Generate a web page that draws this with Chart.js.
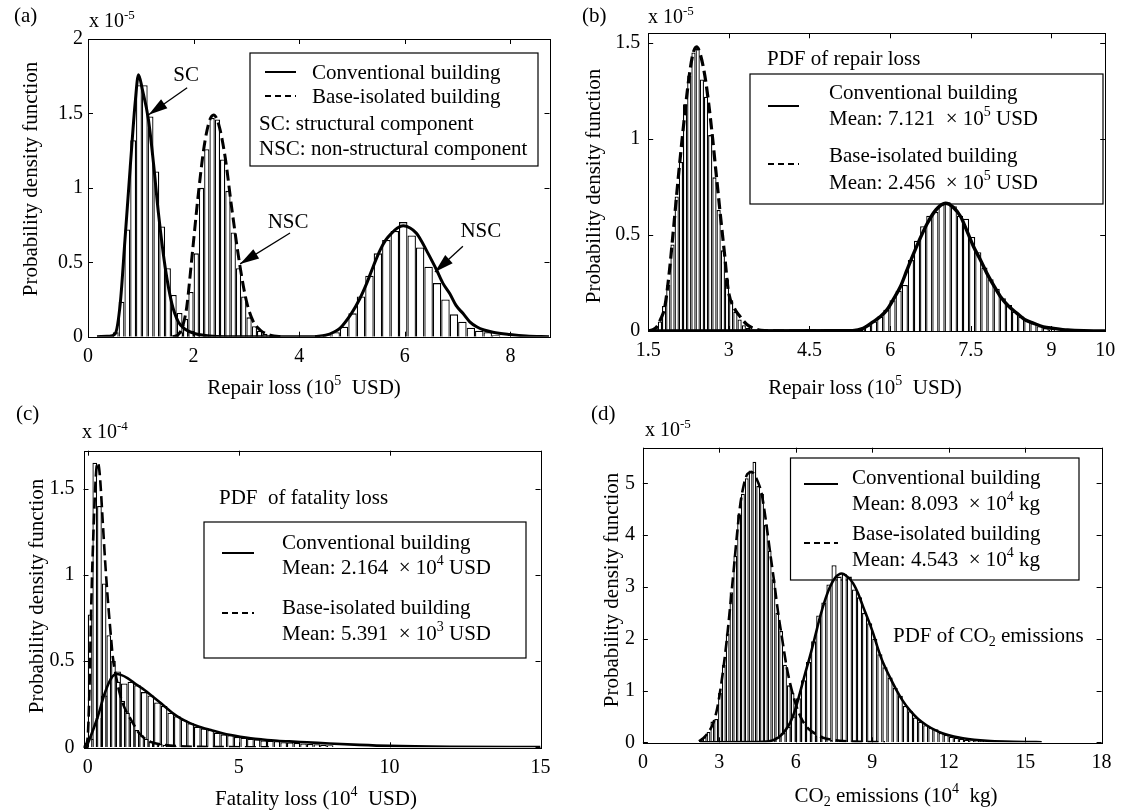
<!DOCTYPE html>
<html><head><meta charset="utf-8">
<script src="https://cdn.jsdelivr.net/npm/chart.js@4.4.0/dist/chart.umd.min.js"></script>
<style>
body{margin:0;background:#fff;width:1128px;height:811px;position:relative;overflow:hidden}
canvas{position:absolute}
</style></head><body>
<canvas id="ca" width="564" height="400" style="left:0;top:0"></canvas>
<canvas id="cb" width="564" height="400" style="left:564px;top:0"></canvas>
<canvas id="cc" width="564" height="411" style="left:0;top:400px"></canvas>
<canvas id="cd" width="564" height="411" style="left:564px;top:400px"></canvas>
<script>
// ---------- Panel (a): repair loss by component ----------
const aTicksX = [0, 2, 4, 6, 8];
const aTicksY = [0, 0.5, 1, 1.5, 2];
const aScBins = [0.525,0.635,0.745,0.855,0.965,1.075,1.185,1.295,1.405,1.515,1.625,1.735,1.845,1.955,2.065];
const aScHist = [0.03,0.235,0.72,1.32,1.69,1.69,1.48,1.11,0.74,0.46,0.28,0.16,0.08,0.04,0.02];
const aBiBins = [1.75,1.85,1.95,2.05,2.15,2.25,2.35,2.45,2.55,2.65,2.75,2.85,2.95,3.05,3.15,3.25,3.35];
const aBiHist = [0.03,0.12,0.3,0.56,1.0,1.26,1.47,1.46,1.19,0.98,0.70,0.46,0.27,0.13,0.07,0.04,0.02];
const aNscBins = [4.53,4.69,4.85,5.01,5.17,5.33,5.49,5.65,5.81,5.97,6.13,6.29,6.45,6.61,6.77,6.93,7.09,7.25,7.41,7.57,7.73];
const aNscHist = [0.01,0.03,0.067,0.157,0.27,0.41,0.56,0.65,0.71,0.77,0.68,0.6,0.47,0.36,0.25,0.15,0.1,0.06,0.04,0.03,0.01];
const aScPdfX = [0.17,0.4,0.515,0.61,0.70,0.80,0.893,0.956,1.03,1.145,1.24,1.334,1.46,1.587,1.71,1.84,2.03,2.3,2.6,4.4];
const aScPdfY = [0,0.003,0.02,0.22,0.65,1.14,1.57,1.76,1.66,1.457,1.166,0.83,0.47,0.224,0.10,0.05,0.02,0.005,0,0];
const aBiPdfX = [1.6,1.7,1.8,1.87,1.97,2.09,2.2,2.3,2.38,2.48,2.6,2.72,2.88,3.0,3.12,3.26,3.45,3.7];
const aBiPdfY = [0,0.01,0.08,0.2,0.54,0.96,1.28,1.45,1.49,1.42,1.2,0.87,0.47,0.24,0.11,0.045,0.01,0];
const aNscPdfX = [4.3,4.5,4.65,4.77,4.99,5.14,5.28,5.4,5.53,5.64,5.75,5.86,5.97,6.1,6.22,6.32,6.41,6.6,6.72,6.85,6.97,7.1,7.23,7.36,7.5,7.67,7.99,8.3,8.73];
const aNscPdfY = [0,0.01,0.03,0.056,0.157,0.25,0.36,0.47,0.58,0.65,0.695,0.73,0.745,0.73,0.695,0.64,0.58,0.45,0.36,0.29,0.21,0.157,0.1,0.067,0.045,0.03,0.015,0.005,0];

// ---------- Panel (b): total repair loss ----------
const bTicksX = [1.5, 3, 4.5, 6, 7.5, 9, 10];
const bTicksY = [0, 0.5, 1, 1.5];
const bBiBins = [1.64,1.718,1.796,1.874,1.952,2.03,2.108,2.186,2.264,2.342,2.42,2.498,2.576,2.654,2.732,2.81,2.888,2.966,3.044,3.122,3.2,3.278,3.356,3.434];
const bBiHist = [0.02,0.05,0.13,0.24,0.45,0.70,0.88,1.18,1.33,1.45,1.47,1.31,1.22,1.02,0.80,0.63,0.42,0.27,0.16,0.10,0.06,0.03,0.015,0.008];
const bCvBins = [5.36,5.474,5.588,5.702,5.816,5.93,6.044,6.158,6.272,6.386,6.5,6.614,6.728,6.842,6.956,7.07,7.184,7.298,7.412,7.526,7.64,7.754,7.868,7.982,8.096,8.21,8.324,8.438,8.552,8.666,8.78,8.894,9.008];
const bCvHist = [0.005,0.012,0.03,0.05,0.075,0.11,0.16,0.21,0.24,0.37,0.47,0.545,0.6,0.62,0.66,0.67,0.65,0.6,0.585,0.49,0.41,0.33,0.27,0.22,0.17,0.135,0.1,0.075,0.055,0.04,0.025,0.015,0.008];
const bBiPdfX = [1.5,1.6,1.66,1.73,1.81,1.89,1.97,2.06,2.15,2.25,2.33,2.4,2.47,2.57,2.68,2.76,2.84,2.92,2.99,3.1,3.21,3.33,3.46,3.6,4.0,5.5];
const bBiPdfY = [0,0.008,0.022,0.06,0.127,0.3,0.53,0.8,1.05,1.3,1.44,1.48,1.44,1.3,1.05,0.83,0.61,0.4,0.21,0.12,0.075,0.035,0.014,0.003,0,0];
const bCvPdfX = [1.5,5.3,5.5,5.69,5.82,5.94,6.06,6.19,6.31,6.44,6.57,6.69,6.85,7.03,7.17,7.31,7.43,7.55,7.68,7.8,7.92,8.05,8.2,8.36,8.5,8.67,8.85,9.04,9.3,9.6,10];
const bCvPdfY = [0,0.002,0.014,0.049,0.075,0.11,0.165,0.23,0.315,0.405,0.49,0.56,0.63,0.665,0.645,0.596,0.52,0.44,0.37,0.3,0.24,0.18,0.13,0.092,0.06,0.04,0.022,0.014,0.005,0.001,0];

// ---------- Panel (c): fatality loss ----------
const cTicksX = [0, 5, 10, 15];
const cTicksY = [0, 0.5, 1, 1.5];
const cBiBins = [0.078,0.233,0.388,0.543,0.698,0.853,1.008,1.163,1.318,1.473,1.628,1.783,1.938,2.093,2.248,2.403,2.558,2.713,2.868];
const cBiHist = [0.77,1.65,1.4,0.95,0.65,0.5,0.38,0.27,0.2,0.15,0.1,0.07,0.05,0.035,0.025,0.02,0.015,0.01,0.008];
const cCvBins = [0.11,0.33,0.55,0.77,0.99,1.21,1.43,1.65,1.87,2.09,2.31,2.53,2.75,2.97,3.19,3.41,3.63,3.85,4.07,4.29,4.51,4.73,4.95,5.17,5.39,5.61,5.83,6.05,6.27,6.49,6.71,6.93,7.15,7.37,7.59,7.81,8.03];
const cCvHist = [0.05,0.17,0.3,0.4,0.44,0.37,0.38,0.36,0.32,0.3,0.26,0.24,0.2,0.18,0.16,0.14,0.12,0.11,0.1,0.085,0.075,0.07,0.06,0.055,0.05,0.045,0.04,0.038,0.035,0.03,0.028,0.025,0.022,0.02,0.018,0.015,0.012];
const cBiPdfX = [-0.14,-0.05,0.0,0.06,0.116,0.2,0.28,0.337,0.4,0.5,0.58,0.667,0.75,0.83,0.95,1.05,1.16,1.3,1.44,1.58,1.71,1.9,2.1,2.5,3,4,6];
const cBiPdfY = [0,0.02,0.06,0.35,0.816,1.3,1.6,1.65,1.58,1.3,1.07,0.854,0.68,0.525,0.4,0.32,0.255,0.2,0.158,0.115,0.08,0.05,0.03,0.015,0.006,0.002,0];
const cCvPdfX = [-0.05,0,0.337,0.557,0.776,0.95,1.1,1.33,1.6,1.88,2.15,2.43,2.7,2.98,3.25,3.53,3.8,4.08,4.4,4.74,5.05,5.4,5.8,6.28,6.8,7.27,8,9,10,12,15];
const cCvPdfY = [0,0.02,0.18,0.31,0.40,0.425,0.42,0.40,0.365,0.332,0.295,0.255,0.215,0.178,0.152,0.13,0.113,0.10,0.085,0.071,0.061,0.052,0.045,0.038,0.033,0.029,0.022,0.014,0.008,0.003,0.001];

// ---------- Panel (d): CO2 emissions ----------
const dTicksX = [0, 3, 6, 9, 12, 15, 18];
const dTicksY = [0, 1, 2, 3, 4, 5];
const dBiBins = [2.275,2.425,2.575,2.725,2.875,3.025,3.175,3.325,3.475,3.625,3.775,3.925,4.075,4.225,4.375,4.525,4.675,4.825,4.975,5.125,5.275,5.425,5.575,5.725,5.875,6.025,6.175,6.325,6.475,6.625,6.775,6.925,7.075,7.225,7.375,7.525,7.675,7.825];
const dBiHist = [0.05,0.1,0.2,0.4,0.45,0.95,1.5,2.1,2.9,3.6,4.4,4.8,5.1,5.25,5.42,4.95,4.8,4.2,3.7,3.15,2.5,2.15,1.5,1.1,0.95,0.7,0.5,0.35,0.25,0.18,0.13,0.1,0.08,0.06,0.045,0.03,0.02,0.015];
const dCvBins = [4.9,5.1,5.3,5.5,5.7,5.9,6.1,6.3,6.5,6.7,6.9,7.1,7.3,7.5,7.7,7.9,8.1,8.3,8.5,8.7,8.9,9.1,9.3,9.5,9.7,9.9,10.1,10.3,10.5,10.7,10.9,11.1,11.3,11.5,11.7,11.9,12.1,12.3,12.5,12.7,12.9,13.1,13.3,13.5,13.7,13.9];
const dCvHist = [0.02,0.05,0.1,0.18,0.3,0.5,0.85,1.2,1.55,1.95,2.45,2.7,3.05,3.42,3.2,3.25,3.2,2.95,2.8,2.5,2.3,2.0,1.7,1.45,1.25,1.05,0.9,0.7,0.6,0.48,0.4,0.33,0.28,0.25,0.18,0.14,0.11,0.09,0.07,0.05,0.04,0.03,0.025,0.02,0.015,0.01];
const dBiPdfX = [2.2,2.37,2.55,2.76,2.9,3.02,3.15,3.29,3.42,3.55,3.68,3.81,3.95,4.1,4.27,4.45,4.66,4.82,4.98,5.15,5.31,5.48,5.64,5.83,6.03,6.22,6.42,6.75,7.07,7.73,8.5,9.5];
const dBiPdfY = [0.02,0.077,0.18,0.37,0.62,0.95,1.4,1.97,2.6,3.26,3.95,4.55,4.95,5.18,5.22,5.1,4.8,4.3,3.71,3.1,2.49,1.95,1.46,1.03,0.69,0.46,0.3,0.17,0.089,0.03,0.01,0];
const dCvPdfX = [2.24,4.5,5.11,5.45,5.77,5.97,6.16,6.35,6.55,6.75,6.95,7.15,7.34,7.55,7.8,8.02,8.25,8.45,8.64,8.84,9.04,9.23,9.43,9.7,9.95,10.2,10.47,10.8,11.13,11.45,11.78,12.2,12.56,13,13.5,14.2,15,15.65];
const dCvPdfY = [0,0.005,0.04,0.15,0.37,0.62,0.95,1.3,1.65,2.03,2.42,2.75,3.0,3.18,3.26,3.2,3.07,2.87,2.62,2.37,2.1,1.8,1.53,1.25,1.01,0.8,0.62,0.45,0.33,0.24,0.17,0.11,0.077,0.05,0.03,0.015,0.006,0.002];

// ---------- helpers ----------
const FONT = "'Liberation Serif','Times New Roman',serif";
Chart.defaults.color = '#000';
Chart.defaults.font.family = FONT;

function hist(bins, heights, axisId, order) {
  return {type:'bar', data: bins.map((c,i)=>({x:c, y:heights[i]})), xAxisID: axisId, yAxisID:'y',
    backgroundColor:'#fff', borderColor:'#000', borderWidth:1.3, categoryPercentage:1, barPercentage:1,
    grouped:false, inflateAmount:0, order: order};
}
function pdf(xs, ys, dashed, w) {
  return {type:'line', data: xs.map((x,i)=>({x:x, y:ys[i]})), xAxisID:'x', yAxisID:'y',
    borderColor:'#000', borderWidth:w, borderDash: dashed ? [11,5] : [], pointRadius:0,
    fill:false, cubicInterpolationMode:'monotone', order: 0};
}
function drawRich(ctx, x, cy, parts, size, align) {
  const small = Math.round(size*0.66);
  const widths = parts.map(p => { ctx.font = (p[1] ? small : size) + 'px ' + FONT; return ctx.measureText(p[0]).width; });
  const total = widths.reduce((a,b)=>a+b, 0);
  let cx = align === 'center' ? x - total/2 : (align === 'right' ? x - total : x);
  const base = cy + size*0.32;
  ctx.textAlign = 'left'; ctx.textBaseline = 'alphabetic'; ctx.fillStyle = '#000';
  parts.forEach((p,i) => {
    ctx.font = (p[1] ? small : size) + 'px ' + FONT;
    const dy = p[1] === 1 ? -size*0.4 : (p[1] === 2 ? size*0.22 : 0);
    ctx.fillText(p[0], cx, base + dy);
    cx += widths[i];
  });
}
function arrow(ctx, x1, y1, x2, y2) {
  ctx.save(); ctx.strokeStyle = '#000'; ctx.fillStyle = '#000'; ctx.lineWidth = 1.3; ctx.setLineDash([]);
  ctx.beginPath(); ctx.moveTo(x1, y1); ctx.lineTo(x2, y2); ctx.stroke();
  const ang = Math.atan2(y2-y1, x2-x1), L = 19, W = 5.5;
  const bx = x2 - L*Math.cos(ang), by = y2 - L*Math.sin(ang);
  ctx.beginPath(); ctx.moveTo(x2, y2);
  ctx.lineTo(bx + W*Math.sin(ang), by - W*Math.cos(ang));
  ctx.lineTo(bx - W*Math.sin(ang), by + W*Math.cos(ang));
  ctx.closePath(); ctx.fill(); ctx.restore();
}

function build(id, p) {
  const tickFont = {family: FONT, size: 20};
  const mk = v => ({value: v});
  const scales = {
    x: {type:'linear', position:'bottom', min:p.xmin, max:p.xmax, offset:false,
      afterBuildTicks: s => { s.ticks = p.xticks.map(mk); },
      afterFit: s => { s.height = p.H - p.B; },
      grid:{display:false, drawTicks:false, offset:false}, border:{display:false},
      ticks:{font:tickFont, color:'#000', padding:8, autoSkip:false, maxRotation:0, minRotation:0, callback: v => String(v)}},
    y: {type:'linear', position:'left', min:p.ymin, max:p.ymax,
      afterBuildTicks: s => { s.ticks = p.yticks.map(mk); },
      afterFit: s => { s.width = p.L; },
      grid:{display:false, drawTicks:false}, border:{display:false},
      ticks:{font:tickFont, color:'#000', padding:p.yPad, callback: v => String(v)}}
  };
  p.hAxes.forEach(a => {
    scales[a] = {type:'linear', display:false, min:p.xmin, max:p.xmax, offset:false,
      afterBuildTicks: s => { s.ticks = p.xticks.map(mk); }, grid:{offset:false}};
  });
  const deco = {
    id: 'deco_' + id,
    beforeDatasetsDraw(chart) {
      const ctx = chart.ctx;
      if (p.box) {
        ctx.save(); ctx.strokeStyle = '#000'; ctx.lineWidth = 1.2;
        ctx.strokeRect(p.box[0], p.box[1], p.box[2]-p.box[0], p.box[3]-p.box[1]);
        ctx.restore();
      }
    },
    afterDatasetsDraw(chart) {
      const ctx = chart.ctx, ca = chart.chartArea, sx = chart.scales.x, sy = chart.scales.y;
      ctx.save(); ctx.strokeStyle = '#000'; ctx.lineWidth = 1; ctx.setLineDash([]);
      ctx.strokeRect(Math.round(ca.left)+0.5, Math.round(ca.top)+0.5, Math.round(ca.right-ca.left), Math.round(ca.bottom-ca.top));
      const T = 5;
      ctx.beginPath();
      p.xticks.forEach(v => { const X = Math.round(sx.getPixelForValue(v))+0.5;
        ctx.moveTo(X, ca.bottom); ctx.lineTo(X, ca.bottom - T); ctx.moveTo(X, ca.top); ctx.lineTo(X, ca.top + T); });
      p.yticks.forEach(v => { const Y = Math.round(sy.getPixelForValue(v))+0.5;
        ctx.moveTo(ca.left, Y); ctx.lineTo(ca.left + T, Y); ctx.moveTo(ca.right, Y); ctx.lineTo(ca.right - T, Y); });
      ctx.stroke();
      (p.samples || []).forEach(s => {
        ctx.beginPath(); ctx.lineWidth = 2; ctx.setLineDash(s[3] ? [6,4] : []);
        ctx.moveTo(s[0], s[2]); ctx.lineTo(s[1], s[2]); ctx.stroke();
      });
      ctx.setLineDash([]);
      (p.arrows || []).forEach(a => {
        arrow(ctx, sx.getPixelForValue(a[0]), sy.getPixelForValue(a[1]), sx.getPixelForValue(a[2]), sy.getPixelForValue(a[3]));
      });
      (p.dataTexts || []).forEach(t => {
        drawRich(ctx, sx.getPixelForValue(t.x), sy.getPixelForValue(t.y), t.parts, t.size || 21, 'center');
      });
      (p.texts || []).forEach(t => {
        if (t.rot) {
          ctx.save(); ctx.translate(t.x, t.y); ctx.rotate(-Math.PI/2);
          drawRich(ctx, 0, 0, t.parts, t.size || 21, 'center'); ctx.restore();
        } else drawRich(ctx, t.x, t.y, t.parts, t.size || 21, t.align || 'left');
      });
      ctx.restore();
    }
  };
  return new Chart(document.getElementById(id), {
    type: 'bar',
    data: {datasets: p.datasets},
    options: {
      responsive:false, animation:false, events:[],
      layout:{padding:{left:0, top:p.T, right:p.W - p.R, bottom:0}},
      plugins:{legend:{display:false}, tooltip:{enabled:false}},
      scales: scales
    },
    plugins: [deco]
  });
}

const YLAB = [['Probability density function',0]];

// (a)
build('ca', {W:564, H:400, L:88, T:39, R:549.5, B:336.7, yPad:5,
  xmin:0, xmax:8.74, ymin:0, ymax:2, xticks:aTicksX, yticks:aTicksY, hAxes:['xh1','xh2','xh3'],
  datasets:[
    hist(aScBins, aScHist, 'xh1', 3), hist(aBiBins, aBiHist, 'xh2', 2), hist(aNscBins, aNscHist, 'xh3', 1),
    pdf(aScPdfX, aScPdfY, false, 3), pdf(aBiPdfX, aBiPdfY, true, 3), pdf(aNscPdfX, aNscPdfY, false, 3)
  ],
  box:[250, 53, 538, 166],
  samples:[[265, 296, 72, false], [265, 296, 96, true]],
  arrows:[[1.877, 1.672, 1.149, 1.491], [3.826, 0.697, 2.88, 0.489], [7.10, 0.607, 6.57, 0.435]],
  dataTexts:[{x:1.858, y:1.76, parts:[['SC',0]]}, {x:3.79, y:0.778, parts:[['NSC',0]]}, {x:7.44, y:0.717, parts:[['NSC',0]]}],
  texts:[
    {x:14, y:15, parts:[['(a)',0]]},
    {x:89, y:21, parts:[['x 10',0],['-5',1]], size:20},
    {x:30, y:179, rot:true, parts:YLAB},
    {x:304, y:387, align:'center', parts:[['Repair loss (10',0],['5',1],['  USD)',0]]},
    {x:312, y:72, parts:[['Conventional building',0]]},
    {x:312, y:96, parts:[['Base-isolated building',0]]},
    {x:259, y:123, parts:[['SC: structural component',0]]},
    {x:259, y:148, parts:[['NSC: non-structural component',0]]}
  ]});

// (b)
build('cb', {W:564, H:400, L:84.2, T:33.3, R:541.2, B:331, yPad:8,
  xmin:1.5, xmax:10, ymin:0, ymax:1.55, xticks:bTicksX, yticks:bTicksY, hAxes:['xh1','xh2'],
  datasets:[
    hist(bBiBins, bBiHist, 'xh1', 2), hist(bCvBins, bCvHist, 'xh2', 1),
    pdf(bBiPdfX, bBiPdfY, true, 3.2), pdf(bCvPdfX, bCvPdfY, false, 3.4)
  ],
  box:[186, 74, 539, 204],
  samples:[[204, 235, 106, false], [204, 235, 164, true]],
  texts:[
    {x:18, y:15, parts:[['(b)',0]]},
    {x:84, y:17, parts:[['x 10',0],['-5',1]], size:20},
    {x:29, y:186, rot:true, parts:YLAB},
    {x:301, y:387, align:'center', parts:[['Repair loss (10',0],['5',1],['  USD)',0]]},
    {x:203, y:58, parts:[['PDF of repair loss',0]]},
    {x:265, y:92, parts:[['Conventional building',0]]},
    {x:265, y:118, parts:[['Mean: 7.121  \u00d7 10',0],['5',1],[' USD',0]]},
    {x:265, y:155, parts:[['Base-isolated building',0]]},
    {x:265, y:182, parts:[['Mean: 2.456  \u00d7 10',0],['5',1],[' USD',0]]}
  ]});

// (c)
build('cc', {W:564, H:411, L:83.5, T:50.7, R:540.5, B:347.3, yPad:9,
  xmin:-0.14, xmax:15, ymin:0, ymax:1.72, xticks:cTicksX, yticks:cTicksY, hAxes:['xh1','xh2'],
  datasets:[
    hist(cCvBins, cCvHist, 'xh2', 2), hist(cBiBins, cBiHist, 'xh1', 1),
    pdf(cBiPdfX, cBiPdfY, true, 2.6), pdf(cCvPdfX, cCvPdfY, false, 2.6)
  ],
  box:[204, 122, 526, 258],
  samples:[[222, 254, 153, false], [222, 254, 213, true]],
  texts:[
    {x:16, y:13, parts:[['(c)',0]]},
    {x:82, y:32, parts:[['x 10',0],['-4',1]], size:20},
    {x:36, y:196, rot:true, parts:YLAB},
    {x:316, y:398, align:'center', parts:[['Fatality loss (10',0],['4',1],['  USD)',0]]},
    {x:219, y:97, parts:[['PDF  of fatality loss',0]]},
    {x:282, y:142, parts:[['Conventional building',0]]},
    {x:282, y:167, parts:[['Mean: 2.164  \u00d7 10',0],['4',1],[' USD',0]]},
    {x:282, y:207, parts:[['Base-isolated building',0]]},
    {x:282, y:233, parts:[['Mean: 5.391  \u00d7 10',0],['3',1],[' USD',0]]}
  ]});

// (d)
build('cd', {W:564, H:411, L:78.9, T:47.7, R:537.6, B:342.3, yPad:8,
  xmin:0, xmax:18, ymin:0, ymax:5.69, xticks:dTicksX, yticks:dTicksY, hAxes:['xh1','xh2'],
  datasets:[
    hist(dBiBins, dBiHist, 'xh1', 2), hist(dCvBins, dCvHist, 'xh2', 1),
    pdf(dBiPdfX, dBiPdfY, true, 2.6), pdf(dCvPdfX, dCvPdfY, false, 2.6)
  ],
  box:[226.5, 58, 515, 180],
  samples:[[240, 274, 84, false], [240, 274, 143, true]],
  texts:[
    {x:27, y:13, parts:[['(d)',0]]},
    {x:81, y:30, parts:[['x 10',0],['-5',1]], size:20},
    {x:47, y:190, rot:true, parts:YLAB},
    {x:332, y:395, align:'center', parts:[['CO',0],['2',2],[' emissions (10',0],['4',1],['  kg)',0]]},
    {x:288, y:77, parts:[['Conventional building',0]]},
    {x:288, y:103, parts:[['Mean: 8.093  \u00d7 10',0],['4',1],[' kg',0]]},
    {x:288, y:133, parts:[['Base-isolated building',0]]},
    {x:288, y:159, parts:[['Mean: 4.543  \u00d7 10',0],['4',1],[' kg',0]]},
    {x:329, y:235, parts:[['PDF of CO',0],['2',2],[' emissions',0]]}
  ]});
</script>
</body></html>
